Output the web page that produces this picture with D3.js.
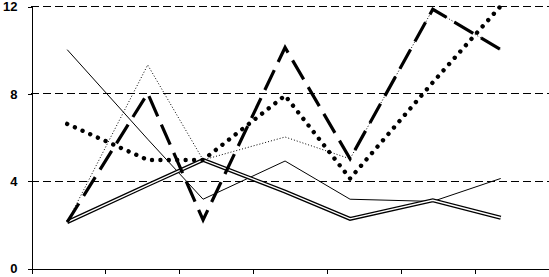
<!DOCTYPE html>
<html>
<head>
<meta charset="utf-8">
<script src="https://cdn.jsdelivr.net/npm/d3@7"></script>
<style>
  body { margin: 0; background: #fff; }
  svg { display: block; }
</style>
</head>
<body>
<script>
"use strict";
// x positions of the points (in tick units), shared by all series
const xPos = [0.49, 1.58, 2.33, 3.44, 4.32, 5.44, 6.36];
const xTicks = [0, 1, 2, 3, 4, 5, 6, 7];
const yTicks = [0, 4, 8, 12];
const gridTicks = [4, 8, 12];
const thinSolid = [10.0, 5.9, 3.15, 4.9, 3.15, 3.05, 4.1];
const doubleLine = [2.1, 3.8, 4.95, 3.5, 2.25, 3.1, 2.3];
const thinDotted = [2.1, 9.3, 4.95, 6.0, 5.0, 11.85, 10.0];
const longDash = [2.1, 8.0, 2.2, 10.1, 5.0, 11.85, 10.0];
const roundDots = [6.6, 4.95, 4.95, 7.9, 4.1, 8.5, 12.0];

const w = 549, h = 277;
const x = d3.scaleLinear().domain([0, 7]).range([31, 548]);
const y = d3.scaleLinear().domain([0, 12]).range([268, 6]);

const svg = d3.select("body").append("svg").attr("width", w).attr("height", h);

// dashed gridlines
svg.append("g").selectAll("line").data(gridTicks).enter().append("line")
  .attr("x1", x(0)).attr("x2", w)
  .attr("y1", d => Math.round(y(d)) + 0.5).attr("y2", d => Math.round(y(d)) + 0.5)
  .attr("stroke", "#000").attr("stroke-width", 1)
  .attr("stroke-dasharray", "8,4")
  .attr("shape-rendering", "crispEdges");

const line = vals => d3.line().x((d, i) => x(xPos[i])).y(d => y(d))(vals);

function draw(vals, width, dash, cap) {
  return svg.append("path").attr("d", line(vals))
    .attr("fill", "none").attr("stroke", "#000")
    .attr("stroke-width", width)
    .attr("stroke-dasharray", dash || null)
    .attr("stroke-linecap", cap || "butt")
    .attr("stroke-linejoin", "miter");
}

draw(thinSolid, 1);
draw(doubleLine, 4);
draw(doubleLine, 1.4).attr("stroke", "#fff");
draw(thinDotted, 1, "1,2");
draw(longDash, 3.2, "22,9");
draw(roundDots, 4.4, "0.01,8.4", "round");

// axes
const yAxis = d3.axisLeft(y).tickValues(yTicks).tickSize(4).tickPadding(10).tickFormat(d3.format("d"));
const xAxis = d3.axisBottom(x).tickValues(xTicks).tickSize(5).tickFormat("");
svg.append("g").attr("transform", "translate(" + (x(0) + 0.5) + ",0.5)").call(yAxis);
svg.append("g").attr("transform", "translate(0.5," + (y(0) + 0.5) + ")").call(xAxis);
svg.selectAll(".domain, .tick line").attr("stroke", "#000").attr("shape-rendering", "crispEdges");
svg.selectAll(".tick text").attr("fill", "#000")
  .style("font-family", "'Liberation Sans', Arial, sans-serif")
  .style("font-size", "13px").style("font-weight", "bold");
</script>
</body>
</html>
